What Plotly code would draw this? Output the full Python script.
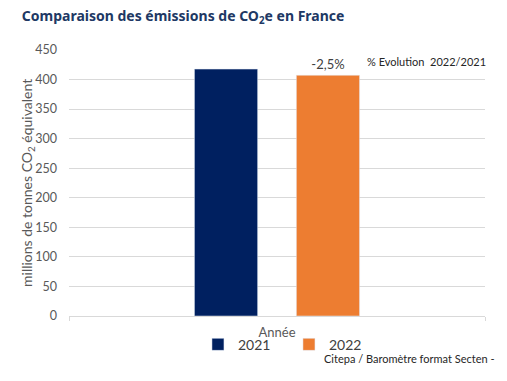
import plotly.graph_objects as go

categories = ["Année"]
years = ["2021", "2022"]
values_2021 = [417.7]
values_2022 = [407.3]
evolution_label = "-2,5%"
colors = ["#002060", "#ED7D31"]

FONT = "Lato"

fig = go.Figure()
fig.add_trace(go.Bar(x=categories, y=values_2021, name=years[0], marker_color=colors[0]))
fig.add_trace(go.Bar(x=categories, y=values_2022, name=years[1], marker_color=colors[1],
                     text=[evolution_label], textposition="outside",
                     textfont=dict(color="#404040", size=13, family=FONT),
                     cliponaxis=False))

fig.update_layout(
    width=507, height=381,
    margin=dict(l=69, r=22, t=50, b=65, autoexpand=False),
    paper_bgcolor="white", plot_bgcolor="white",
    barmode="group", bargap=0.51, bargroupgap=0.38,
    title=dict(text="Comparaison des émissions de CO<sub>2</sub>e en France",
               x=0.043, xanchor="left", y=0.958, yanchor="middle",
               font=dict(family="Noto Sans", size=14, color="#203864", weight="bold")),
    font=dict(family=FONT, color="#595959"),
    showlegend=True,
    legend=dict(orientation="h", x=0.31, xanchor="left", y=-0.048, yanchor="top",
                font=dict(size=14, color="#404040", family=FONT),
                entrywidth=46, entrywidthmode="pixels", itemwidth=30,
                traceorder="normal", bgcolor="rgba(0,0,0,0)"),
    yaxis=dict(range=[0, 450], dtick=50, gridcolor="#D9D9D9", gridwidth=1,
               zeroline=False, showline=False, automargin=False,
               tickfont=dict(size=12.5, color="#595959"), ticks="", ticklen=0,
               ticklabelstandoff=11),
    xaxis=dict(showline=True, linecolor="#D9D9D9", linewidth=1, automargin=False,
               ticks="outside", tickson="boundaries", ticklen=4, tickcolor="#D9D9D9",
               ticklabelstandoff=4,
               tickfont=dict(size=13, color="#595959"), showgrid=False),
)

fig.add_annotation(text="millions de tonnes CO<sub>2</sub> équivalent", xref="paper", yref="paper",
                   x=-0.101, y=0.5, xanchor="center", yanchor="middle", textangle=-90,
                   showarrow=False, font=dict(size=14, color="#595959", family=FONT))
fig.add_annotation(text="% Evolution  2022/2021", xref="paper", yref="paper",
                   x=1.007, y=0.957, xanchor="right", yanchor="middle", showarrow=False,
                   font=dict(size=11, color="#262626", family=FONT))
fig.add_annotation(text="Citepa / Baromètre format Secten -", xref="paper", yref="paper",
                   x=1.03, y=-0.158, xanchor="right", yanchor="middle", showarrow=False,
                   font=dict(size=11, color="#262626", family=FONT))

fig.write_html("out.html", config={"displayModeBar": False},
               post_script="document.body.style.margin='0';")
